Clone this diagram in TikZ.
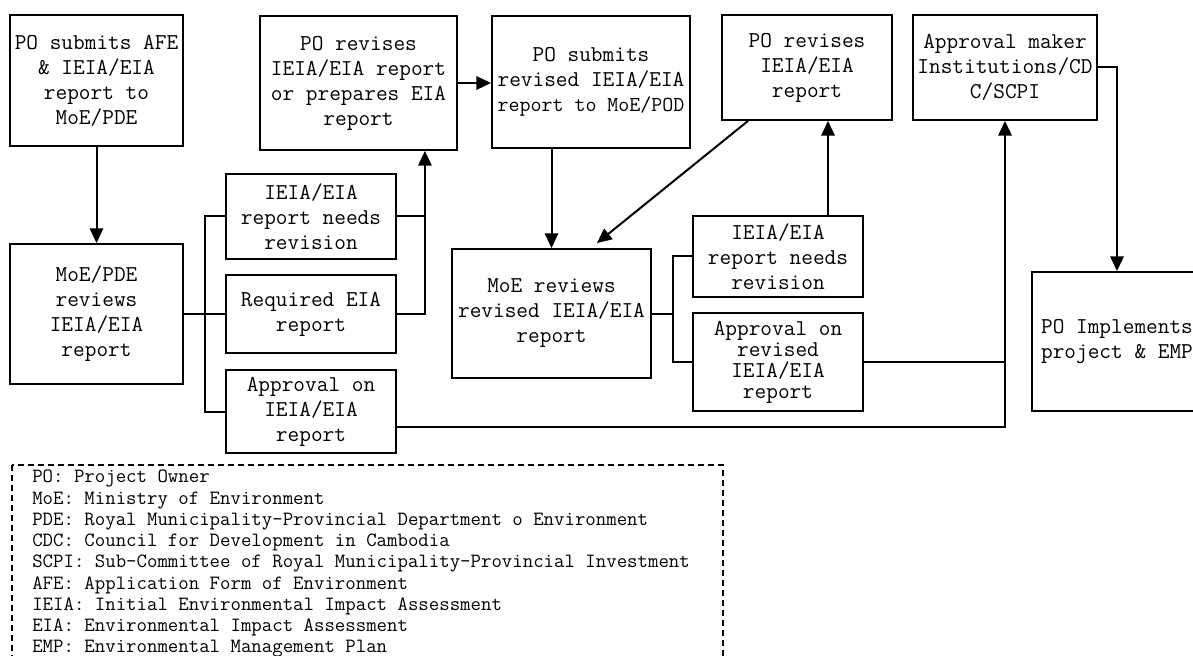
\documentclass[tikz,border=0pt]{standalone}
\usepackage{tikz}
\usetikzlibrary{arrows.meta, positioning, calc}

\tikzset{
  box/.style={draw, line width=1.4pt, inner sep=0pt, align=center,
    font=\ttfamily\fontsize{17}{18.75}\selectfont},
  boxsize/.style 2 args={minimum width=#1*0.75pt, minimum height=#2*0.75pt},
  link/.style={line width=1.5pt},
  arr/.style={link, -{Triangle[length=11pt, width=10pt]}}
}

\begin{document}
\begin{tikzpicture}[x=0.75pt, y=-0.75pt]
  \useasboundingbox (0,0) rectangle (1193,656);
  \clip (0,0) rectangle (1193,656);

  % Top row
  \node[box, boxsize={173}{131}] (submit) at (96.5,80.5) {PO submits AFE\\\& IEIA/EIA\\report to\\MoE/PDE};
  \node[box, boxsize={197}{134}] (revise) at (358.5,83) {PO revises\\IEIA/EIA report\\or prepares EIA\\report};
  \node[box, boxsize={198}{132}] (resubmit) at (591,82) {PO submits\\revised IEIA/EIA\\{\fontsize{16}{18.75}\selectfont report to MoE/POD}};
  \node[box, boxsize={170}{105}] (revise2) at (807,67.5) {PO revises\\IEIA/EIA\\report};
  \node[box, boxsize={184}{105}] (approve) at (1005,67.5) {Approval maker\\Institutions/CD\\C/SCPI};

  % First review and its outcomes
  \node[box, boxsize={173}{140}] (review) at (96.5,314) {MoE/PDE\\reviews\\IEIA/EIA\\report};
  \node[box, boxsize={170}{85}] (needs1) at (311,216.5) {IEIA/EIA\\report needs\\revision};
  \node[box, boxsize={170}{78}] (required) at (311,314) {Required EIA\\report};
  \node[box, boxsize={170}{83}] (okay1) at (311,411.5) {Approval on\\IEIA/EIA\\report};

  % Second review and its outcomes
  \node[box, boxsize={199}{129}] (review2) at (551.5,313.5) {MoE reviews\\revised IEIA/EIA\\report};
  \node[box, boxsize={170}{81}] (needs2) at (778,256.5) {IEIA/EIA\\report needs\\revision};
  \node[box, boxsize={170}{98}, font=\ttfamily\fontsize{17}{15.75}\selectfont] (okay2) at (778,362) {Approval on\\revised\\IEIA/EIA\\report};
  \node[box, boxsize={170}{139}] (implement) at (1117,341.5) {PO Implements\\project \& EMP};

  % Connectors
  \draw[arr] (submit) -- (review);
  \coordinate (fork1) at ($(review.east)+(21,0)$);
  \draw[link] (review.east) -- (fork1) -- (required.west);
  \draw[link] (needs1.west) -| (fork1) |- (okay1.west);
  \coordinate (join1) at ($(required.east)+(28,0)$);
  \draw[link] (needs1.east) -- (needs1.east -| join1);
  \draw[arr] (required.east) -- (join1) -- (join1 |- revise.south);
  \draw[arr] (revise.east) -- (revise.east -| resubmit.west);
  \draw[arr] (review2.north |- resubmit.south) -- (review2.north);
  \draw[arr] ($(revise2.south)+(-59,0)$) -- ($(review2.north)+(45.5,-5)$);
  \coordinate (fork2) at ($(review2.east)+(21,0)$);
  \draw[link] (review2.east) -- (fork2);
  \draw[link] (needs2.west) -| (fork2) |- (okay2.west);
  \draw[arr] ($(needs2.north)+(50,0)$) -- ($(revise2.south)+(21,0)$);
  \draw[link] (okay2.east) -- (okay2.east -| approve.south);
  \draw[arr] ($(okay1.east)+(0,15.5)$) -| (approve.south);
  \draw[arr] (approve.east) -| (implement.north);

  % Legend
  \node[anchor=north west, align=left, inner sep=0pt,
    font=\ttfamily\fontsize{15.2}{15.94}\selectfont] (legend) at (32,470) {%
    PO: Project Owner\\
    MoE: Ministry of Environment\\
    PDE: Royal Municipality-Provincial Department o Environment\\
    CDC: Council for Development in Cambodia\\
    SCPI: Sub-Committee of Royal Municipality-Provincial Investment\\
    AFE: Application Form of Environment\\
    IEIA: Initial Environmental Impact Assessment\\
    EIA: Environmental Impact Assessment\\
    EMP: Environmental Management Plan};
  \draw[dashed, line width=1pt, dash pattern=on 4.5pt off 3pt] (12,465) rectangle (723,690);
\end{tikzpicture}
\end{document}
